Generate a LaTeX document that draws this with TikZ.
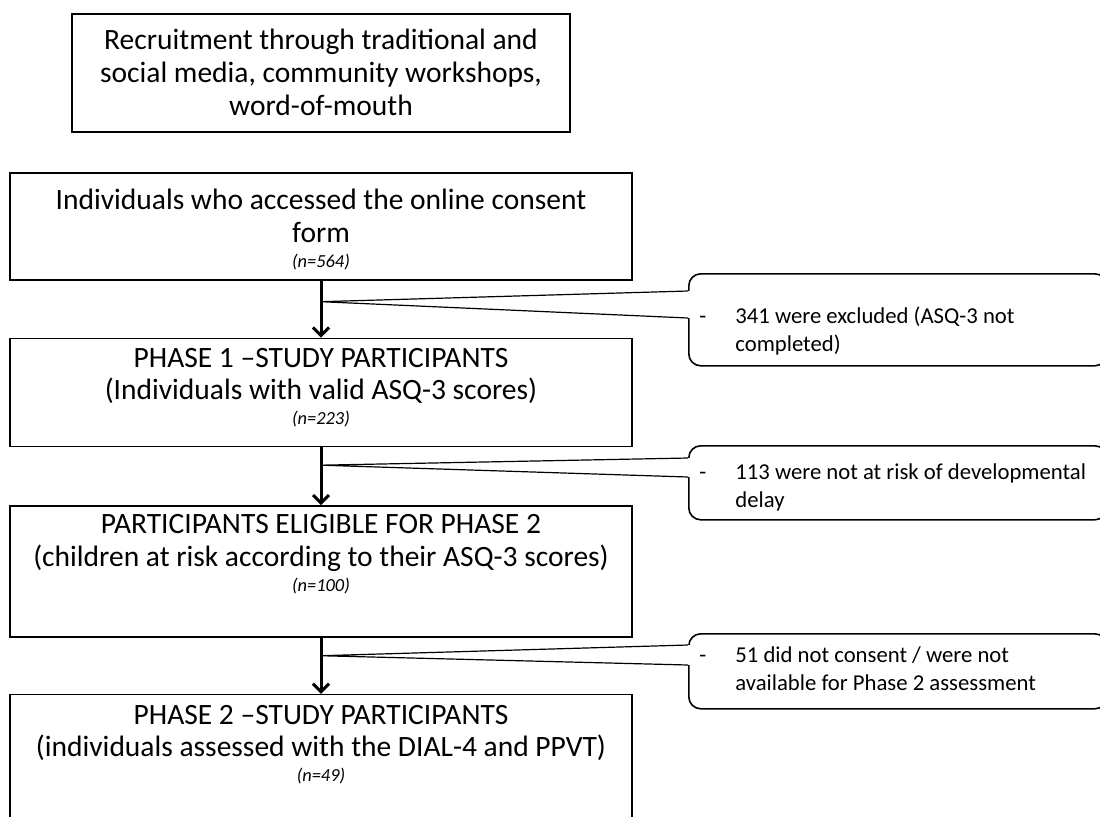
\documentclass[tikz,border=0pt]{standalone}
\usepackage{fontspec}
\setmainfont{Carlito}
\usetikzlibrary{positioning,arrows.meta}
\newcommand\sampleN[1]{{\fontsize{9.2}{11}\itshape\selectfont #1}}

\begin{document}
\begin{tikzpicture}[x = 0.5pt, y = -0.5pt,
    stage/.style = {draw, line width = 0.8pt, minimum width = 311pt, anchor = north},
    body/.style = {align = center, inner sep = 0pt, anchor = north, font = \fontsize{14.75}{16.3}\selectfont},
    note/.style = {draw, rounded corners = 6pt, line width = 0.8pt, minimum width = 209pt, anchor = north west},
    notetext/.style = {inner sep = 0pt, anchor = north west, font = \fontsize{11.35}{14}\selectfont},
    flow/.style = {-{Straight Barb[length = 4pt, width = 8pt]}, line width = 1.5pt},
    wedge/.style = {line width = 0.6pt}]
    \useasboundingbox (0,0) rectangle (1100,816);

    % boxes
    \node[stage, minimum width = 249pt, minimum height = 59pt] (rec) at (321,13) {};
    \node[body, below = 8pt of rec.north] (rect) {Recruitment through traditional and\\social media, community workshops,\\word-of-mouth};

    \node[stage, minimum height = 53.5pt] (acc) at (321,172) {};
    \node[body, below = 8.5pt of acc.north] (acct) {Individuals who accessed the online consent\\form\\[-3.8pt]\sampleN{(n=564)}};

    \node[stage, minimum height = 54pt, below = 28.5pt of acc] (ph1) {};
    \node[body, below = 5pt of ph1.north] (ph1t) {PHASE 1 –STUDY PARTICIPANTS\\(Individuals with valid ASQ-3 scores)\\[-3.8pt]\sampleN{(n=223)}};

    \node[stage, minimum height = 65.5pt, below = 29pt of ph1] (elig) {};
    \node[body, below = 4.5pt of elig.north] (eligt) {PARTICIPANTS ELIGIBLE FOR PHASE 2\\(children at risk according to their ASQ-3 scores)\\[-3.8pt]\sampleN{(n=100)}};

    \node[stage, minimum height = 61.5pt, below = 28pt of elig] (ph2) {};
    \node[body, below = 5.5pt of ph2.north] (ph2t) {PHASE 2 –STUDY PARTICIPANTS\\(individuals assessed with the DIAL-4 and PPVT)\\[-3.8pt]\sampleN{(n=49)}};

    \path (acc.south) -- (ph1.north) coordinate[pos = .37] (br1);
    \path (ph1.south) -- (elig.north) coordinate[pos = .31] (br2);
    \path (elig.south) -- (ph2.north) coordinate[pos = .32] (br3);

    % exclusions
    \node[note, minimum height = 46pt] (out1) at (688,273) {};
    \node[notetext, below right = 15.2pt and 5.5pt of out1.north west] (out1t) {\begin{tabular}{@{}p{18pt}@{}l@{}}- & 341 were excluded (ASQ-3 not\\ & completed)\end{tabular}};
    \fill[white] (br1) -- ([xshift = 1pt, yshift = -9pt]out1.north west) -- ([xshift = 1pt, yshift = -22.5pt]out1.north west) -- cycle;
    \draw[wedge] ([yshift = -9pt]out1.north west) -- (br1) -- ([yshift = -22.5pt]out1.north west);

    \node[note, minimum height = 37pt] (out2) at (688,445) {};
    \node[notetext, below right = 7.2pt and 5.5pt of out2.north west] (out2t) {\begin{tabular}{@{}p{18pt}@{}l@{}}- & 113 were not at risk of developmental\\ & delay\end{tabular}};
    \fill[white] (br2) -- ([xshift = 1pt, yshift = -6.5pt]out2.north west) -- ([xshift = 1pt, yshift = -16pt]out2.north west) -- cycle;
    \draw[wedge] ([yshift = -6.5pt]out2.north west) -- (br2) -- ([yshift = -16pt]out2.north west);

    \node[note, minimum height = 37.5pt] (out3) at (688,633) {};
    \node[notetext, below right = 4.7pt and 5.5pt of out3.north west] (out3t) {\begin{tabular}{@{}p{18pt}@{}l@{}}- & 51 did not consent / were not\\ & available for Phase 2 assessment\end{tabular}};
    \fill[white] (br3) -- ([xshift = 1pt, yshift = -6pt]out3.north west) -- ([xshift = 1pt, yshift = -16pt]out3.north west) -- cycle;
    \draw[wedge] ([yshift = -6pt]out3.north west) -- (br3) -- ([yshift = -16pt]out3.north west);

    \draw[flow] (acc.south) -- (ph1.north);
    \draw[flow] (ph1.south) -- (elig.north);
    \draw[flow] (elig.south) -- (ph2.north);
\end{tikzpicture}
\end{document}
